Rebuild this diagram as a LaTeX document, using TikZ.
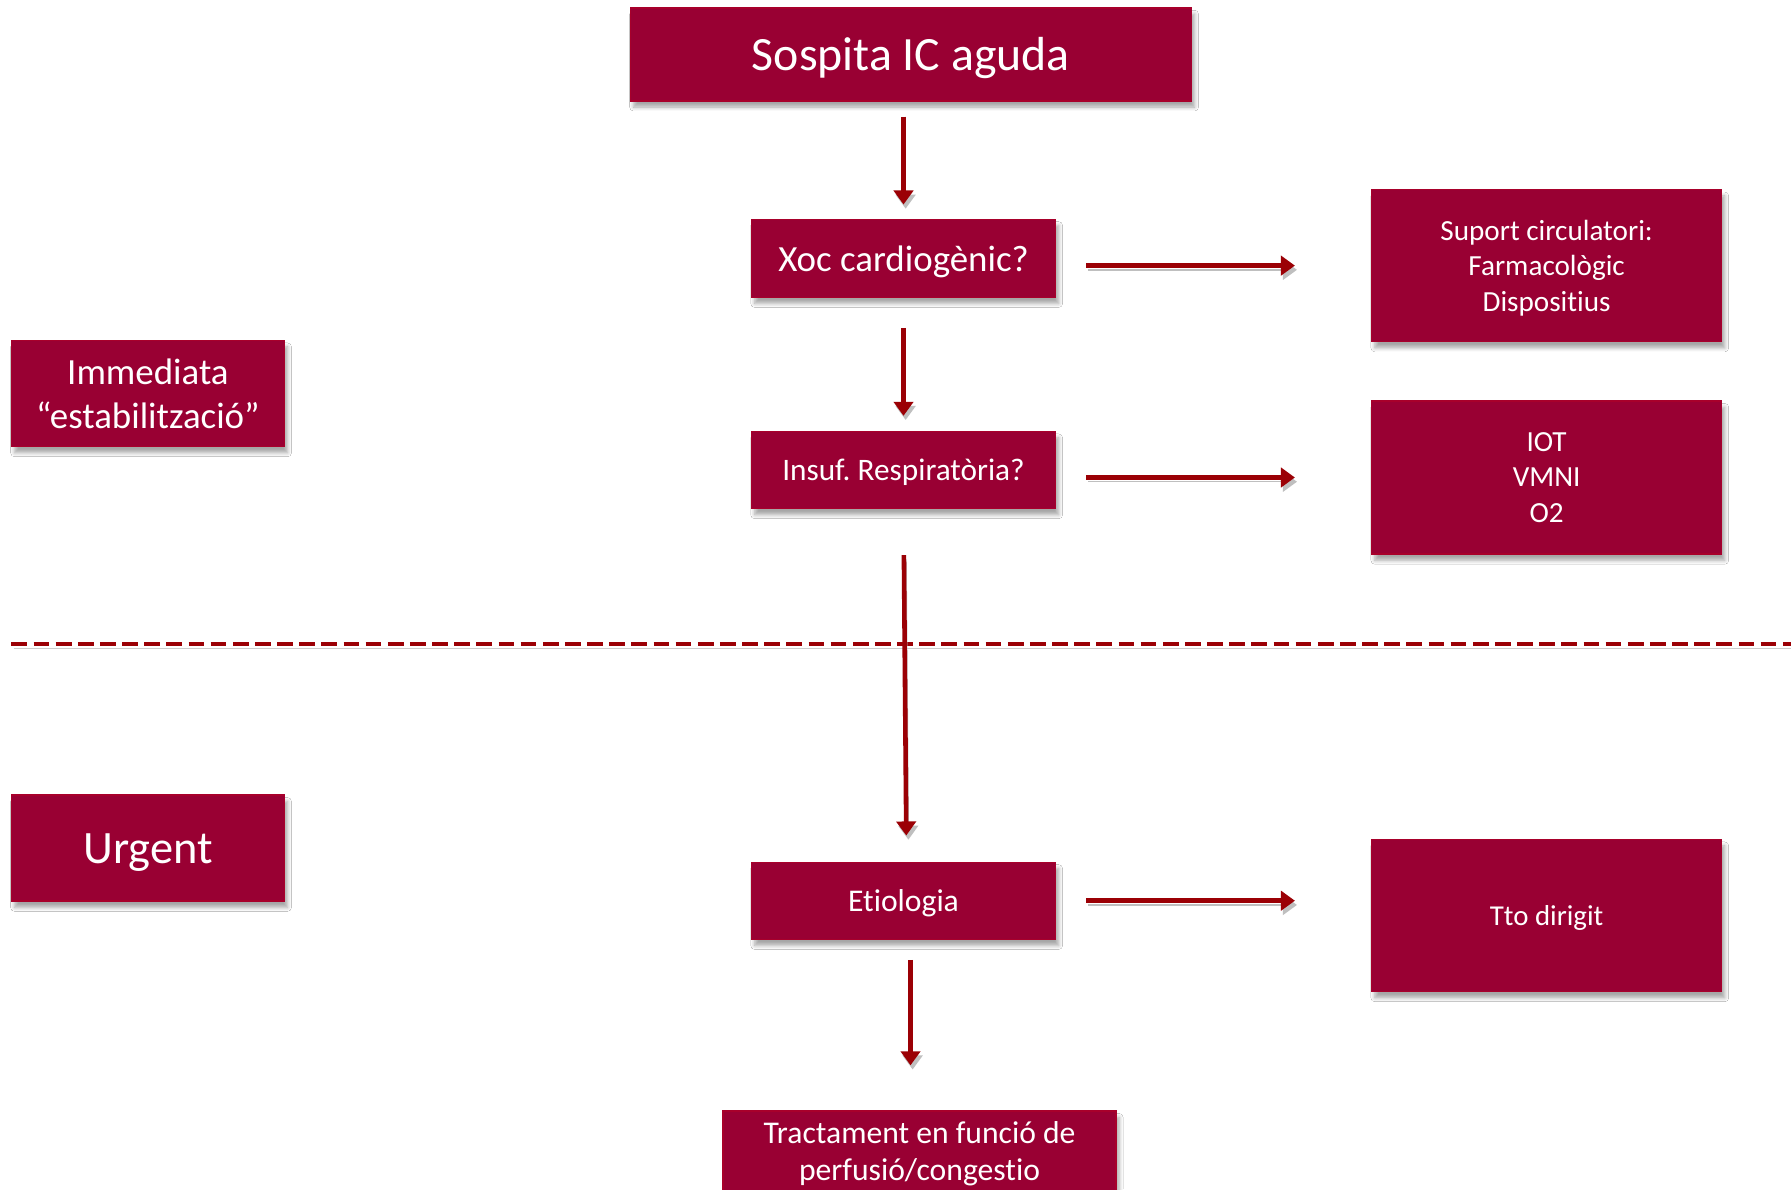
\documentclass[tikz,border=0pt]{standalone}
\usepackage{fontspec}
\setmainfont{Carlito}[Ligatures=NoCommon]
\usetikzlibrary{arrows.meta,shadows.blur}
\definecolor{boxred}{RGB}{153,0,51}
\definecolor{linered}{RGB}{155,0,5}
\frenchspacing

\begin{document}
\begin{tikzpicture}[
    box/.style={draw=boxred!85!red, line width=0.4pt, fill=boxred, text=white,
      align=center, inner sep=0pt, text depth=0pt,
      blur shadow={shadow xshift=0.9pt, shadow yshift=-1.8pt, shadow blur radius=1.1pt,
        shadow opacity=35, shadow blur steps=6}},
    arr/.style={draw=linered, line width=1.3pt, -{Triangle[length=4pt,width=5.5pt]},
      preaction={draw=black!25, transform canvas={shift={(0.6pt,-1.2pt)}}}},
    sep/.style={draw=linered, line width=1.35pt, dash pattern=on 4.5pt off 1.8pt,
      preaction={draw=black!20, transform canvas={shift={(0.6pt,-1.2pt)}}}}
  ]
  \useasboundingbox[fill=white] (0,0) rectangle (17.91,-11.89);

  % central column
  \node[box, minimum width=5.61cm, minimum height=0.93cm, font=\fontsize{13.6}{16}\selectfont]
    (sospita) at (9.109,-0.543) {Sospita IC aguda};
  \node[box, minimum width=3.04cm, minimum height=0.78cm, font=\fontsize{10.5}{12.6}\selectfont]
    (xoc) at (9.035,-2.582) {Xoc cardiogènic?};
  \node[box, minimum width=3.04cm, minimum height=0.77cm, font=\fontsize{8.9}{10.7}\selectfont]
    (insuf) at (9.035,-4.700) {Insuf. Respiratòria?};
  \node[box, minimum width=3.04cm, minimum height=0.77cm, font=\fontsize{9}{10.8}\selectfont]
    (etiol) at (9.035,-9.007) {Etiologia};
  \node[box, minimum width=3.93cm, minimum height=0.80cm, font=\fontsize{9}{10.7}\selectfont]
    (tract) at (9.195,-11.51) {Tractament en funció de\\perfusió/congestio};

  % right column
  \node[box, minimum width=3.50cm, minimum height=1.52cm, font=\fontsize{8.3}{10.1}\selectfont]
    (suport) at (15.466,-2.656) {Suport circulatori:\\Farmacològic\\Dispositius};
  \node[box, minimum width=3.50cm, minimum height=1.53cm, font=\fontsize{8.3}{10.1}\selectfont]
    (iot) at (15.466,-4.775) {IOT\\VMNI\\O2};
  \node[box, minimum width=3.50cm, minimum height=1.52cm, font=\fontsize{8.2}{10}\selectfont]
    (tto) at (15.466,-9.155) {Tto dirigit};

  % left labels
  \node[box, minimum width=2.73cm, minimum height=1.06cm, font=\fontsize{10.5}{12.7}\selectfont]
    (immed) at (1.479,-3.935) {Immediata\\“estabilització”};
  \node[box, minimum width=2.73cm, minimum height=1.06cm, font=\fontsize{13.2}{15.8}\selectfont]
    (urgent) at (1.479,-8.481) {Urgent};

  % separator
  \coordinate (sepL) at (0.114,-6.44);
  \coordinate (sepR) at (17.91,-6.44);
  \draw[sep] (sepL) -- (sepR);

  % arrows
  \draw[arr, shorten <=0.15cm, shorten >=0.14cm] (sospita.south -| xoc.north) -- (xoc.north);
  \draw[arr, shorten <=0.30cm, shorten >=0.15cm] (xoc.south) -- (insuf.north);
  \draw[arr, shorten <=0.46cm, shorten >=0.26cm] (insuf.south) -- ([xshift=0.03cm]etiol.north);
  \draw[arr, shorten <=0.20cm, shorten >=0.45cm] ([xshift=0.07cm]etiol.south) -- ([xshift=0.07cm]etiol.south |- tract.north);
  \draw[arr, shorten <=0.30cm, shorten >=0.76cm] (xoc.east |- suport.west) -- (suport.west);
  \draw[arr, shorten <=0.30cm, shorten >=0.76cm] (insuf.east |- iot.west) -- (iot.west);
  \draw[arr, shorten <=0.30cm, shorten >=0.76cm] (etiol.east) -- (etiol.east -| tto.west);
\end{tikzpicture}
\end{document}
